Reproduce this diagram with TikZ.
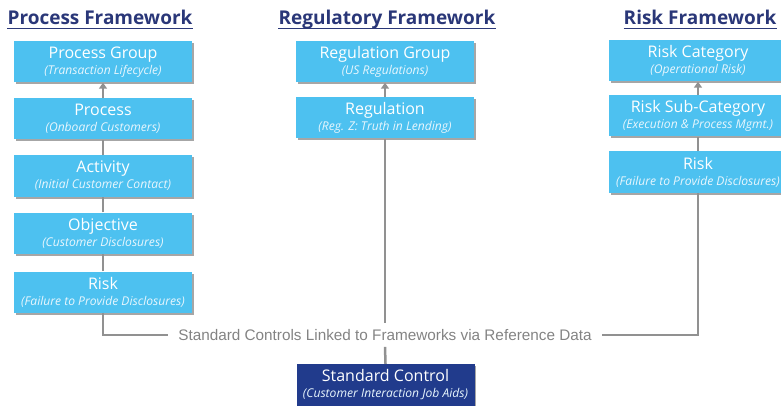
\documentclass[tikz,border=0pt]{standalone}
\usepackage{fontspec}
\setmainfont{Open Sans}
\newfontfamily\arialf{Liberation Sans}
\usetikzlibrary{shadows,arrows.meta}
\definecolor{boxblue}{RGB}{77,193,240}
\definecolor{navybox}{RGB}{33,59,140}
\definecolor{titlenavy}{RGB}{42,55,120}
\definecolor{conngray}{RGB}{145,145,145}
\definecolor{subtxt}{RGB}{232,246,253}
\newcommand\bxtext[2]{{\fontsize{16}{16}\selectfont #1}\\{\fontsize{12.1}{16}\selectfont\itshape\color{subtxt}#2}}
\begin{document}
\begin{tikzpicture}[x=1pt,y=-1pt,
  fbox/.style={fill=boxblue, minimum width=178pt, minimum height=41pt, inner sep=0pt, align=center, text=white,
    font=\fontsize{16}{16}\selectfont,
    drop shadow={shadow xshift=1.5pt, shadow yshift=-2pt, opacity=0.35, fill=black}},
  ctrlbox/.style={fbox, fill=navybox},
  ftitle/.style={font=\fontsize{19}{22}\selectfont\bfseries, text=titlenavy, inner sep=0pt, anchor=base},
  uline/.style={draw=titlenavy, line width=1.8pt},
  conn/.style={draw=conngray, line width=2.5pt},
  arr/.style={conn, -{Triangle[width=8pt,length=6pt]}}
]
\useasboundingbox (0,0) rectangle (781,406);

% titles
\node[ftitle] (t1) at (100,25) {Process Framework};
\node[ftitle] (t2) at (387,25) {Regulatory Framework};
\node[ftitle] (t3) at (700,25) {Risk Framework};
\foreach \t in {t1,t2,t3}
  \draw[uline] ([yshift=-3.5pt]\t.base west) -- ([yshift=-3.5pt]\t.base east);

% process column
\node[fbox] (p1) at (103,62) {\bxtext{Process Group}{(Transaction Lifecycle)}};
\node[fbox] (p2) at (103,119) {\bxtext{Process}{(Onboard Customers)}};
\node[fbox] (p3) at (103,176) {\bxtext{Activity}{(Initial Customer Contact)}};
\node[fbox] (p4) at (103,233) {\bxtext{Objective}{(Customer Disclosures)}};
\node[fbox] (p5) at (103,292) {\bxtext{Risk}{(Failure to Provide Disclosures)}};

% regulatory column
\node[fbox] (g1) at (385,62) {\bxtext{Regulation Group}{(US Regulations)}};
\node[fbox] (g2) at (385,118) {\bxtext{Regulation}{(Reg. Z: Truth in Lending)}};

% risk column
\node[fbox] (r1) at (698,61) {\bxtext{Risk Category}{(Operational Risk)}};
\node[fbox] (r2) at (698,116) {\bxtext{Risk Sub-Category}{(Execution \& Process Mgmt.)}};
\node[fbox] (r3) at (698,172) {\bxtext{Risk}{(Failure to Provide Disclosures)}};

% standard control
\node[ctrlbox, minimum height=42pt] (sc) at (385.5,385) {\bxtext{Standard Control}{(Customer Interaction Job Aids)}};

% link label
\node[font=\arialf\fontsize{15.3}{17}\selectfont, text=conngray!90!black, inner xsep=10pt, inner ysep=6pt] (lbl) at (385,335)
  {Standard Controls Linked to Frameworks via Reference Data};

% connectors
\draw[arr] (p2.north) -- (p1.south);
\draw[conn] (p3.north) -- (p2.south);
\draw[conn] (p4.north) -- (p3.south);
\draw[conn] (p5.north) -- (p4.south);
\draw[arr] (g2.north) -- (g1.south);
\draw[arr] (r2.north) -- (r1.south);
\draw[conn] (r3.north) -- (r2.south);
\draw[conn] (p5.south) |- (lbl.west);
\draw[conn] (r3.south) |- (lbl.east);
\draw[conn] (g2.south) -- (lbl.north);
\draw[conn] (lbl.south) -- (sc.north);
\end{tikzpicture}
\end{document}
